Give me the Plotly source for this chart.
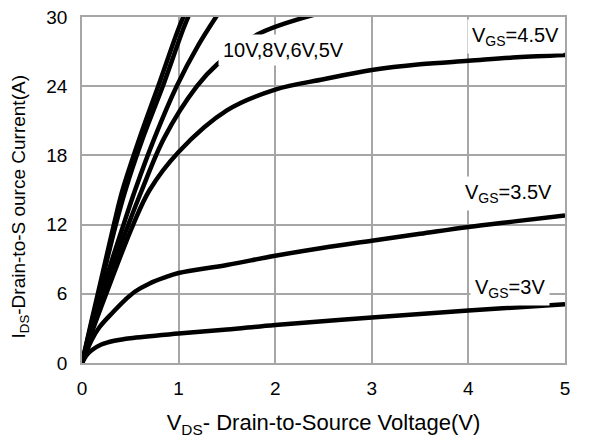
import plotly.graph_objects as go

# I-V curves, V_DS in volts, I_DS in amps
vds_10v = [0, 0.1, 0.2, 0.33, 0.42, 0.6, 0.81, 1.0, 1.1]
ids_10v = [0, 3.7, 7.3, 12.0, 15.0, 19.6, 24.5, 29.0, 31.0]

vds_8v = [0, 0.1, 0.2, 0.35, 0.45, 0.63, 0.85, 1.05, 1.15]
ids_8v = [0, 3.5, 6.9, 12.0, 15.0, 19.5, 24.3, 29.0, 31.0]

vds_6v = [0, 0.1, 0.2, 0.43, 0.55, 0.75, 0.98, 1.2, 1.45]
ids_6v = [0, 3.0, 6.0, 12.0, 15.0, 19.5, 24.0, 27.5, 30.8]

vds_5v = [0, 0.2, 0.48, 0.62, 0.85, 1.19, 1.4, 1.82, 2.45]
ids_5v = [0, 5.6, 12.0, 15.0, 19.5, 24.0, 25.9, 28.5, 30.3]

vds_45v = [0, 0.1, 0.25, 0.53, 0.7, 1.0, 1.5, 2.0, 2.5, 3.0, 3.5, 4.0, 4.5, 5.0]
ids_45v = [0, 2.6, 6.0, 12.0, 15.0, 18.3, 21.9, 23.7, 24.6, 25.4, 25.9, 26.2, 26.5, 26.7]

vds_35v = [0, 0.1, 0.18, 0.32, 0.45, 0.55, 0.7, 0.85, 1.0, 1.5, 2.0, 2.5, 3.0, 3.5, 4.0, 4.5, 5.0]
ids_35v = [0, 2.0, 3.1, 4.4, 5.5, 6.2, 6.9, 7.4, 7.8, 8.5, 9.3, 10.0, 10.6, 11.2, 11.8, 12.3, 12.8]

vds_3v = [0, 0.05, 0.1, 0.2, 0.35, 0.5, 1.0, 1.5, 2.0, 3.0, 4.0, 5.0]
ids_3v = [0, 0.7, 1.1, 1.6, 1.95, 2.15, 2.55, 2.9, 3.3, 3.95, 4.55, 5.1]

x_ticks = [0, 1, 2, 3, 4, 5]
y_ticks = [0, 6, 12, 18, 24, 30]

curves = [
    (vds_10v, ids_10v),
    (vds_8v, ids_8v),
    (vds_6v, ids_6v),
    (vds_5v, ids_5v),
    (vds_45v, ids_45v),
    (vds_35v, ids_35v),
    (vds_3v, ids_3v),
]

fig = go.Figure()

for vds, ids in curves:
    fig.add_trace(
        go.Scatter(
            x=vds,
            y=ids,
            mode="lines",
            line=dict(color="black", width=4.5, shape="spline", smoothing=1.0),
            showlegend=False,
            hoverinfo="skip",
        )
    )

family = "Liberation Sans, Arial, sans-serif"
label_font = dict(family=family, size=20, color="black")

# curve labels sit on white boxes that hide the lines behind them
labels = [
    (2.09, 27.1, "10V,8V,6V,5V"),
    (4.49, 28.3, "V<sub>GS</sub>=4.5V"),
    (4.41, 14.7, "V<sub>GS</sub>=3.5V"),
    (4.43, 6.5, "V<sub>GS</sub>=3V"),
]
for x, y, text in labels:
    fig.add_annotation(
        x=x,
        y=y,
        text=text,
        showarrow=False,
        font=label_font,
        bgcolor="white",
        borderpad=4,
    )

# y title sits a bit below the middle of the axis, so place it by hand
fig.add_annotation(
    xref="paper",
    yref="paper",
    x=-0.128,
    y=0.45,
    text="I<sub>DS</sub>-Drain-to-S ource Current(A)",
    textangle=-90,
    showarrow=False,
    xanchor="center",
    yanchor="middle",
    font=dict(family=family, size=19, color="black"),
)

tick_font = dict(family=family, size=19, color="black")
grid_color = "#a6a6a6"

# the page body adds an 8px margin, so the figure is 8px smaller each way
fig.update_layout(
    width=581,
    height=430,
    margin=dict(l=74, r=24, t=9, b=75),
    plot_bgcolor="white",
    paper_bgcolor="white",
    font=tick_font,
    xaxis=dict(
        range=[0, 5],
        tickvals=x_ticks,
        showgrid=True,
        gridcolor=grid_color,
        gridwidth=1.5,
        zeroline=False,
        showline=True,
        linecolor=grid_color,
        linewidth=1.5,
        mirror=True,
        ticks="",
        ticklabelstandoff=7,
        ticklabeloverflow="allow",
        tickfont=tick_font,
        automargin=False,
        title=dict(
            text="V<sub>DS</sub>- Drain-to-Source Voltage(V)",
            font=dict(family=family, size=22, color="black"),
            standoff=17,
        ),
    ),
    yaxis=dict(
        range=[0, 30],
        tickvals=y_ticks,
        showgrid=True,
        gridcolor=grid_color,
        gridwidth=1.5,
        zeroline=False,
        showline=True,
        linecolor=grid_color,
        linewidth=1.5,
        mirror=True,
        ticks="",
        ticklabelstandoff=9,
        ticklabeloverflow="allow",
        tickfont=tick_font,
        automargin=False,
    ),
)

fig.write_html("out.html")
